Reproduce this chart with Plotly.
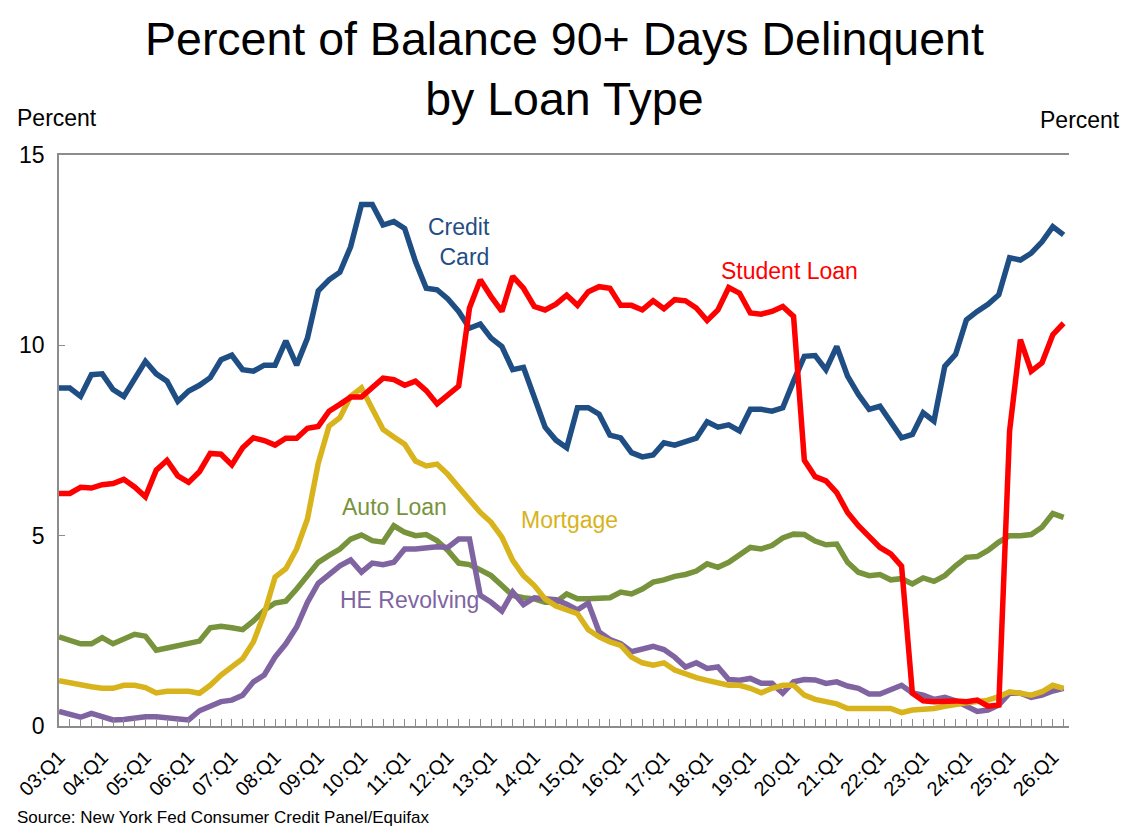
import plotly.graph_objects as go

# quarterly, 03:Q1 onward
credit_card = [8.88, 8.88, 8.66, 9.23, 9.25, 8.84, 8.66, 9.13, 9.58, 9.25, 9.06, 8.53, 8.80, 8.95, 9.15, 9.62, 9.74, 9.36, 9.32, 9.48, 9.48, 10.12, 9.48, 10.19, 11.43,
               11.72, 11.92, 12.59, 13.70, 13.70, 13.16, 13.25, 13.07, 12.20, 11.50, 11.46, 11.22, 10.89, 10.45, 10.56, 10.19, 9.97, 9.36, 9.42, 8.62, 7.85, 7.51, 7.31,
               8.36, 8.36, 8.19, 7.64, 7.57, 7.18, 7.07, 7.12, 7.44, 7.38, 7.47, 7.56, 7.99, 7.85, 7.91, 7.75, 8.32, 8.32, 8.27, 8.36, 9.06, 9.71, 9.73,
               9.36, 9.97, 9.19, 8.71, 8.32, 8.40, 7.97, 7.57, 7.66, 8.23, 8.01, 9.45, 9.76, 10.67, 10.89, 11.08, 11.33, 12.30, 12.24, 12.42, 12.72, 13.12, 12.90]

student_loan = [6.11, 6.11, 6.27, 6.25, 6.34, 6.37, 6.48, 6.28, 6.02, 6.72, 6.98, 6.57, 6.40, 6.68, 7.16, 7.14, 6.86, 7.31, 7.57, 7.50, 7.38, 7.56, 7.56, 7.82, 7.87,
                8.27, 8.45, 8.64, 8.64, 8.88, 9.14, 9.10, 8.95, 9.06, 8.81, 8.46, 8.71, 8.93, 10.98, 11.72, 11.28, 10.89, 11.81, 11.50, 11.02, 10.93, 11.08, 11.32,
                11.05, 11.41, 11.54, 11.50, 11.05, 11.05, 10.93, 11.17, 10.96, 11.20, 11.17, 10.98, 10.65, 10.93, 11.52, 11.37, 10.85, 10.82, 10.89, 11.02, 10.76, 6.98, 6.55,
                6.44, 6.13, 5.61, 5.26, 4.96, 4.69, 4.52, 4.20, 0.86, 0.66, 0.64, 0.66, 0.66, 0.64, 0.68, 0.52, 0.55, 7.75, 10.15, 9.32, 9.54, 10.28, 10.58]

auto_loan = [2.34, 2.25, 2.16, 2.16, 2.32, 2.16, 2.27, 2.41, 2.36, 1.99, 2.05, 2.10, 2.16, 2.23, 2.58, 2.62, 2.58, 2.53, 2.76, 3.04, 3.23, 3.28, 3.60, 3.97, 4.30,
             4.48, 4.65, 4.91, 5.02, 4.87, 4.83, 5.26, 5.09, 5.00, 5.03, 4.87, 4.61, 4.28, 4.24, 4.10, 3.95, 3.69, 3.43, 3.37, 3.34, 3.25, 3.25, 3.47,
             3.34, 3.34, 3.34, 3.37, 3.52, 3.47, 3.60, 3.78, 3.84, 3.93, 3.98, 4.07, 4.26, 4.17, 4.30, 4.50, 4.69, 4.65, 4.74, 4.94, 5.04, 5.03, 4.86,
             4.76, 4.78, 4.30, 4.04, 3.95, 3.98, 3.84, 3.87, 3.73, 3.89, 3.80, 3.95, 4.21, 4.43, 4.45, 4.61, 4.83, 5.00, 5.00, 5.03, 5.22, 5.58, 5.48]

mortgage = [1.19, 1.13, 1.08, 1.03, 0.99, 0.99, 1.07, 1.07, 1.01, 0.87, 0.91, 0.92, 0.91, 0.86, 1.07, 1.34, 1.55, 1.77, 2.21, 2.95, 3.91, 4.13, 4.65, 5.44, 6.90,
            7.88, 8.10, 8.66, 8.88, 8.36, 7.79, 7.59, 7.40, 6.96, 6.83, 6.88, 6.61, 6.27, 5.92, 5.61, 5.35, 4.96, 4.35, 3.95, 3.69, 3.34, 3.15, 3.06,
            2.95, 2.53, 2.34, 2.21, 2.12, 1.81, 1.66, 1.60, 1.66, 1.47, 1.36, 1.27, 1.20, 1.12, 1.07, 1.07, 0.99, 0.87, 0.99, 1.07, 1.07, 0.81, 0.70,
            0.64, 0.58, 0.46, 0.46, 0.46, 0.46, 0.46, 0.35, 0.42, 0.44, 0.46, 0.52, 0.58, 0.61, 0.64, 0.68, 0.77, 0.90, 0.86, 0.81, 0.90, 1.07, 0.99]

he_revolving = [0.38, 0.31, 0.23, 0.33, 0.24, 0.16, 0.17, 0.21, 0.24, 0.24, 0.21, 0.16, 0.16, 0.40, 0.52, 0.64, 0.68, 0.81, 1.16, 1.34, 1.81, 2.16, 2.60, 3.25, 3.75,
                4.00, 4.21, 4.36, 4.04, 4.28, 4.24, 4.30, 4.65, 4.65, 4.69, 4.71, 4.69, 4.91, 4.91, 3.43, 3.25, 3.02, 3.52, 3.19, 3.37, 3.34, 3.32, 3.20,
                3.05, 3.23, 2.47, 2.27, 2.16, 1.95, 2.01, 2.09, 2.01, 1.81, 1.55, 1.66, 1.51, 1.55, 1.22, 1.20, 1.25, 1.12, 1.12, 0.86, 1.16, 1.22, 1.21,
                1.12, 1.16, 1.05, 0.99, 0.84, 0.84, 0.94, 1.07, 0.87, 0.81, 0.70, 0.75, 0.66, 0.52, 0.38, 0.42, 0.55, 0.86, 0.86, 0.75, 0.81, 0.92, 0.99]

quarters = list(range(len(credit_card)))
year_labels = ["%02d:Q1" % y for y in range(3, 27)]
year_ticks = [4 * i for i in range(len(year_labels))]

FONT = "Liberation Sans, Arial, sans-serif"
BLUE = "#1F4E84"
RED = "#FF0000"
GREEN = "#77933C"
GOLD = "#D8B31C"
PURPLE = "#8064A2"
AXIS = "#8C8C8C"

series = [
    ("Credit Card", credit_card, BLUE),
    ("Auto Loan", auto_loan, GREEN),
    ("HE Revolving", he_revolving, PURPLE),
    ("Mortgage", mortgage, GOLD),
    ("Student Loan", student_loan, RED),
]

fig = go.Figure()
for name, vals, col in series:
    fig.add_trace(go.Scatter(x=quarters, y=vals, name=name, mode="lines",
                             line=dict(color=col, width=5.5), hoverinfo="skip"))

# series labels
labels = [
    ("Credit<br>Card", 40.1, 12.72, BLUE, "right", "right"),
    ("Student Loan", 67.6, 11.94, RED, "center", "center"),
    ("Auto Loan", 31.1, 5.76, GREEN, "center", "center"),
    ("Mortgage", 47.3, 5.42, GOLD, "center", "center"),
    ("HE Revolving", 32.45, 3.32, PURPLE, "center", "center"),
]
for txt, lx, ly, col, xa, al in labels:
    fig.add_annotation(x=lx, y=ly, text=txt, showarrow=False, xanchor=xa, align=al,
                       yanchor="middle", font=dict(size=23, color=col, family=FONT))

fig.add_annotation(text="Percent of Balance 90+ Days Delinquent<br>by Loan Type",
                   xref="paper", yref="paper", x=0.5, y=1.151, xanchor="center",
                   yanchor="middle", showarrow=False,
                   font=dict(size=46.5, color="black", family=FONT))
fig.add_annotation(text="Percent", xref="paper", yref="paper", x=-0.0436, y=1.065,
                   xanchor="left", yanchor="middle", showarrow=False,
                   font=dict(size=23, color="black", family=FONT))
fig.add_annotation(text="Percent", xref="paper", yref="paper", x=1.0525, y=1.061,
                   xanchor="right", yanchor="middle", showarrow=False,
                   font=dict(size=23, color="black", family=FONT))
fig.add_annotation(text="Source: New York Fed Consumer Credit Panel/Equifax",
                   xref="paper", yref="paper", x=-0.0436, y=-0.161,
                   xanchor="left", yanchor="middle", showarrow=False,
                   font=dict(size=17, color="black", family=FONT))

yticks = dict(tickvals=[0, 5, 10, 15], ticktext=["0", "5", "10", "15"], range=[0, 15],
              showgrid=False, zeroline=False, showline=True, linecolor=AXIS, linewidth=1.5,
              ticks="inside", ticklen=6, tickcolor=AXIS, automargin=False,
              tickfont=dict(size=23, family=FONT, color="black"), ticklabelstandoff=8)

fig.update_layout(
    width=1135, height=832,
    margin=dict(l=59, r=66, t=155, b=106),
    plot_bgcolor="white", paper_bgcolor="white",
    showlegend=False,
    font=dict(family=FONT, color="black"),
    xaxis=dict(range=[0, 93.5], tickvals=year_ticks, ticktext=year_labels, tickangle=-45,
               showgrid=False, zeroline=False, showline=True, mirror=True, automargin=False,
               linecolor=AXIS, linewidth=1.5, ticks="inside", ticklen=7, tickcolor=AXIS,
               tickfont=dict(size=20, family=FONT, color="black"), ticklabelstandoff=10,
               minor=dict(dtick=1, tick0=0, ticks="inside", ticklen=7, tickcolor=AXIS, showgrid=False)),
    yaxis=dict(side="left", **yticks),
    yaxis2=dict(side="right", overlaying="y", anchor="x", **yticks),
)

# page body has a default margin; remove it so the chart sits at the window corner
fig.write_html("out.html", config={"displayModeBar": False},
               post_script="document.body.style.margin='0';")
